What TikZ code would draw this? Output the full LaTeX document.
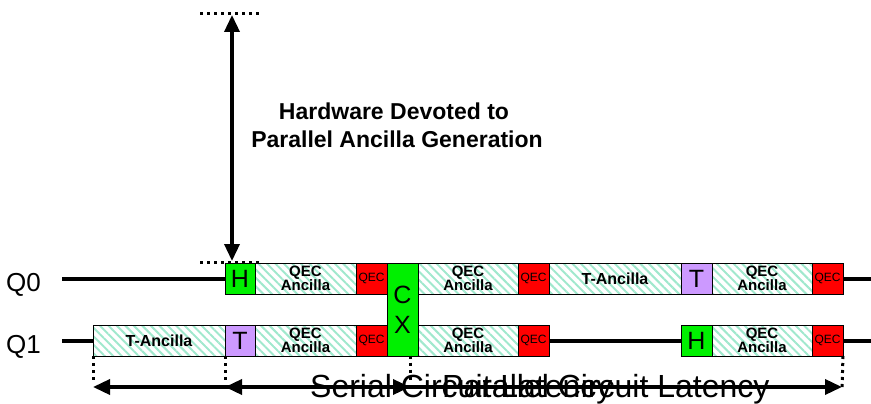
\documentclass[tikz,border=0pt]{standalone}
\usepackage{fontspec}
\setmainfont{Liberation Sans}
\usetikzlibrary{arrows.meta,patterns.meta}
\definecolor{gategreen}{RGB}{0,240,0}
\definecolor{gatepurple}{RGB}{204,153,255}
\definecolor{hatchcol}{RGB}{160,232,205}
\definecolor{qecred}{RGB}{255,0,0}
\begin{document}
\begin{tikzpicture}[x=1pt,y=-1pt,
  box/.style={draw=black, line width=0.9pt, inner sep=0pt, outer sep=0pt, minimum height=31pt, anchor=west},
  anc/.style={box, pattern={Lines[angle=-45,distance=6pt,line width=2pt]}, pattern color=hatchcol, font=\bfseries\fontsize{15}{14}\selectfont, align=center},
  qec/.style={box, fill=qecred, minimum width=31pt, font=\fontsize{12}{12}\selectfont},
  gate/.style={box, font=\fontsize{25}{25}\selectfont},
  wire/.style={line width=4pt},
  bigarrow/.style={line width=3.5pt, {Triangle[length=17pt,width=15pt]}-{Triangle[length=17pt,width=15pt]}},
  dots/.style={line width=3pt, dash pattern=on 3pt off 4pt},
  qlabel/.style={anchor=base west, inner sep=0pt, font=\fontsize{26}{26}\selectfont},
  hwtext/.style={anchor=base, inner sep=0pt, font=\bfseries\fontsize{23}{23}\selectfont},
  latext/.style={anchor=base west, inner sep=0pt, font=\fontsize{32}{32}\selectfont}
]
\useasboundingbox (0,0) rectangle (871,404);

% labels
\node[qlabel] (lq0) at (6,291) {Q0};
\node[qlabel] (lq1) at (6,353) {Q1};

% wire end points
\coordinate (w0s) at (62,278.5);
\coordinate (w0e) at (871,278.5);
\coordinate (w1s) at (62,340.5);
\coordinate (w1e) at (871,340.5);

% row 0
\node[gate, fill=gategreen, minimum width=30pt] (h0) at (225,278.5) {H};
\node[anc, minimum width=101pt] (a01) at (255,278.5) {QEC\\Ancilla};
\node[qec] (q01) at (356,278.5) {QEC};
\node[gate, fill=gategreen, minimum width=31pt, minimum height=93pt, align=center, font=\fontsize{25}{30}\selectfont] (cx) at (387,309.5) {C\\X};
\node[anc, minimum width=100pt] (a02) at (418,278.5) {QEC\\Ancilla};
\node[qec] (q02) at (518,278.5) {QEC};
\node[anc, minimum width=132pt, font=\bfseries\fontsize{16}{16}\selectfont] (ta0) at (549,278.5) {T-Ancilla};
\node[gate, fill=gatepurple, minimum width=31pt] (t0) at (681,278.5) {T};
\node[anc, minimum width=100pt] (a03) at (712,278.5) {QEC\\Ancilla};
\node[qec] (q03) at (812,278.5) {QEC};

% row 1
\node[anc, minimum width=132pt, font=\bfseries\fontsize{16}{16}\selectfont] (ta1) at (93,340.5) {T-Ancilla};
\node[gate, fill=gatepurple, minimum width=30pt] (t1) at (225,340.5) {T};
\node[anc, minimum width=101pt] (a11) at (255,340.5) {QEC\\Ancilla};
\node[qec] (q11) at (356,340.5) {QEC};
\node[anc, minimum width=100pt] (a12) at (418,340.5) {QEC\\Ancilla};
\node[qec] (q12) at (518,340.5) {QEC};
\node[gate, fill=gategreen, minimum width=31pt] (h1) at (681,340.5) {H};
\node[anc, minimum width=100pt] (a13) at (712,340.5) {QEC\\Ancilla};
\node[qec] (q13) at (812,340.5) {QEC};

% wires
\draw[wire] (w0s) -- (h0.west);
\draw[wire] (q03.east) -- (w0e);
\draw[wire] (w1s) -- (ta1.west);
\draw[wire] (q12.east) -- (h1.west);
\draw[wire] (q13.east) -- (w1e);

% hardware arrow
\coordinate (dtl) at (200,14);
\coordinate (dtr) at (260,14);
\coordinate (dbl) at (200,262);
\coordinate (dbr) at (260,262);
\coordinate (hwtop) at (232,15);
\coordinate (hwbot) at (232,261);
\draw[dots] (dtl) -- (dtr);
\draw[dots] (dbl) -- (dbr);
\draw[bigarrow] (hwbot) -- (hwtop);
\node[hwtext] (hw1) at (394,119) {Hardware Devoted to};
\node[hwtext] (hw2) at (397,147) {Parallel Ancilla Generation};

% latency markers
\coordinate (m1) at (93,380);
\coordinate (m2) at (225,380);
\coordinate (m3) at (410,380);
\coordinate (m3t) at (410,355.5);
\coordinate (m4) at (842,388);
\draw[dots] (ta1.south west) -- (m1);
\draw[dots] (t1.south west) -- (m2);
\draw[dots] (m3t) -- (m3);
\draw[dots] (q13.south east) -- (m4);

\coordinate (sa) at (93,387);
\coordinate (sb) at (842,387);
\coordinate (pa) at (225,387);
\coordinate (pb) at (410,387);
\draw[bigarrow] (sa) -- (sb);
\draw[bigarrow] (pa) -- (pb);
\node[latext] (ser) at (310,397) {Serial Circuit Latency};
\node[latext] (par) at (442,397) {Parallel Circuit Latency};
\end{tikzpicture}
\end{document}
